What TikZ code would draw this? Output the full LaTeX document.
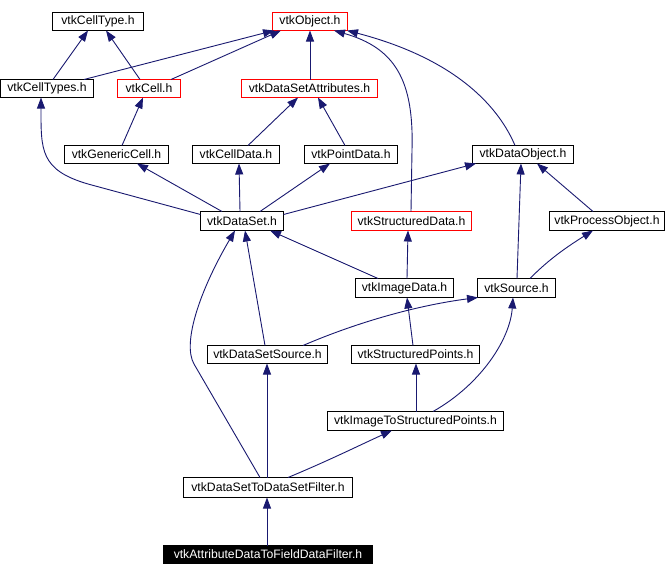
\documentclass[tikz,border=0pt]{standalone}
\usepackage{fontspec}
\setmainfont{Liberation Sans}
\usetikzlibrary{arrows.meta}
\definecolor{edgeblue}{HTML}{191970}
\definecolor{nodered}{HTML}{FF0000}
\newcommand\nT[2]{(#1.north -| #2,0)}
\newcommand\nB[2]{(#1.south -| #2,0)}
\begin{document}
\begin{tikzpicture}[x=1pt,y=-1pt,
  box/.style={draw=black, line width=1pt, fill=white, anchor=north west, inner sep=0pt,
    outer sep=0pt, font=\fontsize{12.2}{13}\selectfont},
  redbox/.style={box, draw=nodered},
  darkbox/.style={box, fill=black, text=white},
  e/.style={draw=edgeblue, line width=0.9pt, -{Triangle[length=11pt,width=8pt]}, fill=none}]
\path[use as bounding box, fill=white] (0,0) rectangle (666,576);
\newcommand\bx[7]{\node[#1, minimum width=#5pt-#3pt, minimum height=#6pt-#4pt] (#2) at (#3+0.5,#4+0.5) {#7};}
\bx{box}{ct}{52}{12}{143}{30}{vtkCellType.h}
\bx{redbox}{obj}{272}{12}{347}{30}{vtkObject.h}
\bx{box}{cts}{0}{79}{93}{97}{vtkCellTypes.h}
\bx{redbox}{cell}{117}{79}{180}{97}{vtkCell.h}
\bx{redbox}{dsa}{241}{79}{377}{97}{vtkDataSetAttributes.h}
\bx{box}{gc}{64}{145}{168}{163}{vtkGenericCell.h}
\bx{box}{cd}{192}{145}{279}{163}{vtkCellData.h}
\bx{box}{pd}{304}{145}{397}{163}{vtkPointData.h}
\bx{box}{do}{472}{145}{573}{163}{vtkDataObject.h}
\bx{box}{ds}{200}{211}{283}{230}{vtkDataSet.h}
\bx{redbox}{sd}{351}{211}{471}{230}{vtkStructuredData.h}
\bx{box}{po}{549}{211}{664}{230}{vtkProcessObject.h}
\bx{box}{id}{355}{278}{453}{297}{vtkImageData.h}
\bx{box}{src}{477}{278}{555}{297}{vtkSource.h}
\bx{box}{dss}{207}{345}{327}{363}{vtkDataSetSource.h}
\bx{box}{sp}{351}{345}{479}{363}{vtkStructuredPoints.h}
\bx{box}{itsp}{327}{411}{503}{430}{vtkImageToStructuredPoints.h}
\bx{box}{dsf}{183}{477}{352}{497}{vtkDataSetToDataSetFilter.h}
\bx{darkbox}{adf}{163}{545}{372}{563}{vtkAttributeDataToFieldDataFilter.h}
% edges
\draw[e] \nT{cts}{53} -- \nB{ct}{88};
\draw[e] \nT{cell}{140} -- \nB{ct}{106};
\draw[e] \nT{cts}{84} -- \nB{obj}{274};
\draw[e] \nT{cell}{171} -- \nB{obj}{281};
\draw[e] \nT{dsa}{310} -- \nB{obj}{310};
\draw[e] \nT{sd}{411} -- (412,150) .. controls (414,80) and (395,48) .. \nB{obj}{334};
\draw[e] \nT{do}{515} .. controls (500,110) and (460,60) .. \nB{obj}{347};
\draw[e] \nT{gc}{122} -- \nB{cell}{143};
\draw[e] \nT{cd}{248} -- \nB{dsa}{298};
\draw[e] \nT{pd}{345} -- \nB{dsa}{318};
\draw[e] ([yshift=-3pt]ds.north west) -- (88,184) .. controls (40,170) and (41,150) .. \nB{cts}{41};
\draw[e] \nT{ds}{222} -- \nB{gc}{137};
\draw[e] \nT{ds}{240} -- \nB{cd}{239};
\draw[e] \nT{ds}{260} -- \nB{pd}{330};
\draw[e] ([yshift=-3pt]ds.north east) -- \nB{do}{476};
\draw[e] \nT{id}{378} -- \nB{ds}{270};
\draw[e] \nT{id}{407} -- \nB{sd}{408};
\draw[e] \nT{po}{593} -- \nB{do}{537};
\draw[e] \nT{src}{517} -- \nB{do}{521};
\draw[e] \nT{src}{530} .. controls (550,258) and (570,245) .. \nB{po}{593};
\draw[e] \nT{dss}{265} -- \nB{ds}{245};
\draw[e] \nT{dss}{303} .. controls (360,321) and (420,305) .. \nB{src}{478};
\draw[e] \nT{sp}{413} -- \nB{id}{407};
\draw[e] \nT{itsp}{416} -- \nB{sp}{416};
\draw[e] \nT{itsp}{433} .. controls (480,385) and (510,340) .. \nB{src}{513};
\draw[e] \nT{dsf}{260} -- (194,364) .. controls (182,343) and (200,290) .. \nB{ds}{235};
\draw[e] \nT{dsf}{267} -- \nB{dss}{267};
\draw[e] \nT{dsf}{288} .. controls (330,460) and (360,445) .. \nB{itsp}{392};
\draw[e] \nT{adf}{267} -- \nB{dsf}{267};
\end{tikzpicture}
\end{document}
